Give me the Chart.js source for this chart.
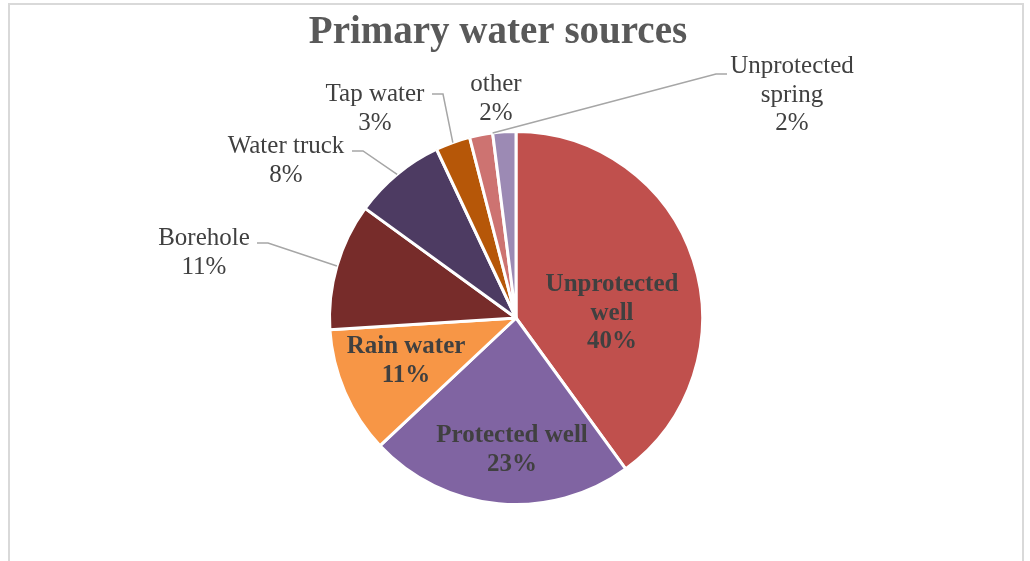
<!DOCTYPE html>
<html>
<head>
<meta charset="utf-8">
<title>Primary water sources</title>
<script src="https://cdn.jsdelivr.net/npm/chart.js@4/dist/chart.umd.min.js"></script>
<style>
  html, body { margin: 0; padding: 0; background: #fff; }
  #wrap { position: relative; width: 1030px; height: 561px; }
</style>
</head>
<body>
<div id="wrap"><canvas id="waterChart" width="1030" height="561"></canvas></div>
<script>
// Share of households by main water source (%)
const sources = ['Unprotected well', 'Protected well', 'Rain water', 'Borehole',
                 'Water truck', 'Tap water', 'other', 'Unprotected spring'];
const shares = [40, 23, 11, 11, 8, 3, 2, 2];
const sliceColors = ['#C0504D', '#8064A2', '#F79646', '#772C2A',
                     '#4D3B62', '#B65708', '#CD7371', '#9C8AB4'];

// Where each label goes, as offsets from the pie centre.
// inside labels are bold; outside ones get a leader line with an elbow.
const labelLayout = [
    { inside: true, wrap: true, dx: 96, dy: -27 },
    { inside: true, dx: -4, dy: 124 },
    { inside: true, dx: -110, dy: 35 },
    { dx: -312, dy: -73, elbow: [-248, -75], end: -259 },
    { dx: -230, dy: -165, elbow: [-153, -167], end: -164 },
    { dx: -141, dy: -217, elbow: [-73, -224], end: -84 },
    { dx: -20, dy: -227 },
    { wrap: true, dx: 276, dy: -245, elbow: [200, -244], end: 211, anchorAt: 0 }
];

const LINE_GAP = 28.5;

// Frame around the chart
const framePlugin = {
    id: 'frame',
    beforeDraw(chart) {
        const ctx = chart.ctx;
        ctx.save();
        ctx.strokeStyle = '#D9D9D9';
        ctx.lineWidth = 2;
        ctx.strokeRect(9, 4, 1014, 620);
        ctx.restore();
    }
};

// Title plus the category / percent labels
const labelPlugin = {
    id: 'sliceLabels',
    afterDatasetsDraw(chart) {
        const ctx = chart.ctx;
        const arcs = chart.getDatasetMeta(0).data;
        const cx = arcs[0].x, cy = arcs[0].y;

        ctx.save();
        ctx.textAlign = 'center';
        ctx.textBaseline = 'alphabetic';

        ctx.fillStyle = '#595959';
        ctx.font = 'bold 39px "Liberation Serif", serif';
        ctx.fillText('Primary water sources', 498, 43);

        arcs.forEach((arc, i) => {
            const lay = labelLayout[i];
            const name = sources[i];
            const lines = lay.wrap ? name.split(' ') : [name];
            lines.push(shares[i] + '%');

            // leader line from the slice edge to the label
            if (lay.elbow) {
                const t = lay.anchorAt === undefined ? 0.5 : lay.anchorAt;
                const ang = arc.startAngle + (arc.endAngle - arc.startAngle) * t;
                const ax = cx + Math.cos(ang) * arc.outerRadius;
                const ay = cy + Math.sin(ang) * arc.outerRadius;
                ctx.strokeStyle = '#A6A6A6';
                ctx.lineWidth = 1.5;
                ctx.beginPath();
                ctx.moveTo(ax, ay);
                ctx.lineTo(cx + lay.elbow[0], cy + lay.elbow[1]);
                ctx.lineTo(cx + lay.end, cy + lay.elbow[1]);
                ctx.stroke();
            }

            ctx.fillStyle = '#404040';
            ctx.font = (lay.inside ? 'bold ' : '') + '25px "Liberation Serif", serif';
            lines.forEach((txt, k) => {
                ctx.fillText(txt, cx + lay.dx, cy + lay.dy + k * LINE_GAP);
            });
        });
        ctx.restore();
    }
};

const ctx = document.getElementById('waterChart').getContext('2d');
const chart = new Chart(ctx, {
    type: 'pie',
    data: {
        labels: sources,
        datasets: [{
            data: shares,
            backgroundColor: sliceColors,
            borderColor: '#FFFFFF',
            borderWidth: 3
        }]
    },
    options: {
        responsive: false,
        animation: false,
        layout: {
            padding: { top: 130, bottom: 55, left: 2, right: 0 }
        },
        plugins: {
            legend: { display: false },
            title: { display: false },
            tooltip: { enabled: false }
        }
    },
    plugins: [framePlugin, labelPlugin]
});
</script>
</body>
</html>
